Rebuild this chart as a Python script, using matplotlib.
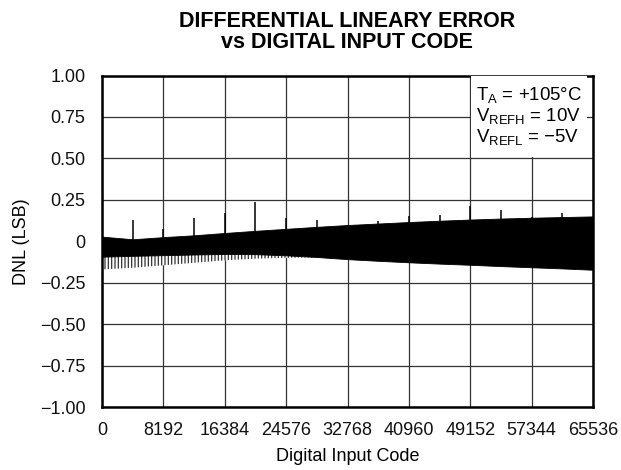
import matplotlib
matplotlib.use("Agg")
import matplotlib.pyplot as plt
import matplotlib.patches as mpatches

plt.rcParams['font.family'] = ['Liberation Sans', 'DejaVu Sans']
plt.rcParams['mathtext.fontset'] = 'custom'
plt.rcParams['mathtext.rm'] = 'Liberation Sans'
plt.rcParams['hatch.linewidth'] = 0.9

# ---- data ----
env_codes = [0, 4096, 8192, 12288, 16384, 20480, 24576, 28672, 32768,
             36864, 40960, 45056, 49152, 53248, 57344, 61440, 65535]
upper_edge = [0.028, 0.012, 0.025, 0.036, 0.050, 0.063, 0.075, 0.087, 0.098,
              0.107, 0.116, 0.124, 0.131, 0.137, 0.142, 0.146, 0.150]
lower_solid = [-0.093, -0.088, -0.084, -0.080, -0.077, -0.078, -0.085, -0.095, -0.108,
               -0.118, -0.127, -0.135, -0.142, -0.150, -0.157, -0.164, -0.172]
lower_fringe = [-0.170, -0.160, -0.145, -0.130, -0.115, -0.105, -0.100, -0.098, -0.108,
                -0.118, -0.127, -0.135, -0.142, -0.150, -0.157, -0.164, -0.172]

spike_codes = [4096, 8192, 12288, 16384, 20480, 24576, 28672, 36864,
               40960, 45056, 49152, 53248, 57344, 61440]
spike_values = [0.128, 0.072, 0.139, 0.170, 0.235, 0.140, 0.128, 0.125,
                0.150, 0.160, 0.213, 0.189, 0.145, 0.169]

x_ticks = [0, 8192, 16384, 24576, 32768, 40960, 49152, 57344, 65536]
y_ticks = [-1.0, -0.75, -0.5, -0.25, 0, 0.25, 0.5, 0.75, 1.0]
y_labels = ['\u22121.00', '\u22120.75', '\u22120.50', '\u22120.25', '0',
            '0.25', '0.50', '0.75', '1.00']
box_lines = ['T$_\\mathregular{A}$ = +105\u00b0C',
             'V$_\\mathregular{REFH}$ = 10V',
             'V$_\\mathregular{REFL}$ = \u22125V']

W, H = 621, 470
fig = plt.figure(figsize=(W / 100, H / 100), dpi=100)
ax = fig.add_axes([102 / W, 1 - 407 / H, (593 - 102) / W, (407 - 75.5) / H])

ax.set_xlim(0, 65536)
ax.set_ylim(-1, 1)
ax.set_xticks(x_ticks)
ax.set_xticklabels([str(v) for v in x_ticks])
ax.set_yticks(y_ticks)
ax.set_yticklabels(y_labels)
ax.tick_params(length=0, labelsize=13, colors='#111111')
ax.tick_params(axis='y', pad=12)
ax.tick_params(axis='x', pad=11)
ax.grid(True, color='#333333', linewidth=0.9)
ax.set_axisbelow(True)
for s in ax.spines.values():
    s.set_linewidth(1.8)
    s.set_color('black')

# fringe of the lower edge (lighter vertical strokes)
ax.fill_between(env_codes, lower_fringe, lower_solid, facecolor='white',
                edgecolor='#333333', hatch='|||||', linewidth=0, zorder=2)
# main dense band
ax.fill_between(env_codes, lower_solid, upper_edge, color='black', linewidth=0.6, zorder=3)
# upward spikes
ax.vlines(spike_codes, [0] * len(spike_codes), spike_values, color='black',
          linewidth=1.1, zorder=3)

# condition box
rect = mpatches.Rectangle((49152 + 150, 0.51), 65536 * (588 - 472) / 491, 0.49,
                          facecolor='white', edgecolor='none', zorder=4)
ax.add_patch(rect)
for i, t in enumerate(box_lines):
    ax.text(49152 + 65536 * 6 / 491, 0.875 - i * 0.125, t, fontsize=13.4,
            va='center', ha='left', zorder=5)

fig.text(347 / W, 1 - 32 / H, 'DIFFERENTIAL LINEARY ERROR\nvs DIGITAL INPUT CODE',
         ha='center', va='center', fontsize=15.5, fontweight='bold', linespacing=1.0)
ax.set_xlabel('Digital Input Code', fontsize=13, labelpad=6)
ax.set_ylabel('DNL (LSB)', fontsize=13, labelpad=7)

fig.savefig('out.png', dpi=100)
